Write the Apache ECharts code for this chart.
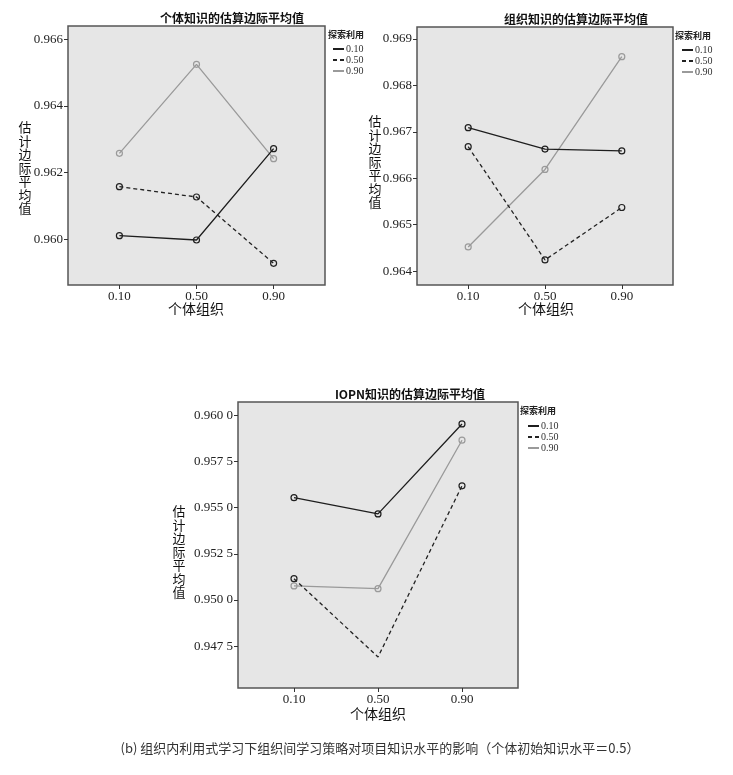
<!DOCTYPE html>
<html>
<head>
<meta charset="utf-8">
<script src="https://cdn.jsdelivr.net/npm/echarts@6/dist/echarts.min.js"></script>
<style>
html,body{margin:0;padding:0;background:#fff;}
#c{width:733px;height:775px;}
</style>
</head>
<body>
<div id="c"></div>
<script>
// ---- data ----
const xValues = [0.10, 0.50, 0.90];
const seriesNames = ['0.10', '0.50', '0.90'];
const chartTitles = ['个体知识的估算边际平均值', '组织知识的估算边际平均值', 'IOPN知识的估算边际平均值'];
const xAxisTitle = '个体组织';
const yAxisTitle = '估计边际平均值';
const legendTitle = '探索利用';
const caption = '(b) 组织内利用式学习下组织间学习策略对项目知识水平的影响（个体初始知识水平＝0.5）';

// chart 1: 个体知识
const indiv010 = [0.96011, 0.95998, 0.96272];
const indiv050 = [0.96158, 0.96127, 0.95928];
const indiv090 = [0.96258, 0.96525, 0.96242];
// chart 2: 组织知识
const org010 = [0.96709, 0.96663, 0.96659];
const org050 = [0.96668, 0.96424, 0.96537];
const org090 = [0.96452, 0.96619, 0.96862];
// chart 3: IOPN知识
const iopn010 = [0.95554, 0.95466, 0.95953];
const iopn050 = [0.95115, 0.94691, 0.95618];
const iopn090 = [0.95076, 0.95061, 0.95865];

// tick labels
const xTicks = [0.10, 0.50, 0.90];
const yTicks1 = [0.960, 0.962, 0.964, 0.966];
const yTicks2 = [0.964, 0.965, 0.966, 0.967, 0.968, 0.969];
const yTicks3 = [0.9475, 0.9500, 0.9525, 0.9550, 0.9575, 0.9600];

// ---- layout / style ----
const grids = [
  {left: 68, top: 26, width: 257, height: 259},
  {left: 417, top: 27, width: 256, height: 258},
  {left: 238, top: 402, width: 280, height: 286}
];
const titleCenters = [227, 571, 405];
const yRanges = [[0.95863, 0.9664], [0.9637, 0.96926], [0.94523, 0.96072]];
const yTickSets = [yTicks1, yTicks2, yTicks3];
const yFormatters = [
  v => v.toFixed(3),
  v => v.toFixed(3),
  v => { const s = v.toFixed(4); return s.slice(0, 5) + ' ' + s.slice(5); }
];
const dataSets = [
  [indiv010, indiv050, indiv090],
  [org010, org050, org090],
  [iopn010, iopn050, iopn090]
];
const lineStyles = [
  {color: '#1e1e1e', type: 'solid', width: 1.3},
  {color: '#222222', type: [4, 3], width: 1.3},
  {color: '#9a9a9a', type: 'solid', width: 1.3}
];
const numFont = 'Liberation Serif';
const cjkFont = 'Noto Sans CJK SC';

const xAxes = [], yAxes = [], series = [], legends = [], graphics = [], titles = [];

grids.forEach((g, i) => {
  xAxes.push({
    type: 'value', gridIndex: i, min: 0.5 - 2 / 3, max: 0.5 + 2 / 3,
    splitLine: {show: false}, axisLine: {show: false, onZero: false},
    axisTick: {show: true, customValues: xTicks, length: 4, lineStyle: {color: '#333'}},
    axisLabel: {customValues: xTicks, formatter: v => v.toFixed(2), margin: 5,
      fontFamily: numFont, fontSize: 13, color: '#222'}
  });
  yAxes.push({
    type: 'value', gridIndex: i, min: yRanges[i][0], max: yRanges[i][1],
    splitLine: {show: false}, axisLine: {show: false, onZero: false},
    axisTick: {show: true, customValues: yTickSets[i], length: 4, lineStyle: {color: '#333'}},
    axisLabel: {customValues: yTickSets[i], formatter: yFormatters[i], margin: 5,
      fontFamily: numFont, fontSize: 13, color: '#222'}
  });
  dataSets[i].forEach((vals, k) => {
    series.push({
      name: seriesNames[k], type: 'line', xAxisIndex: i, yAxisIndex: i,
      data: xValues.map((x, j) => {
        const item = {value: [x, vals[j]]};
        if (i === 2 && k === 1 && j === 1) item.symbol = 'none';
        return item;
      }),
      symbol: 'circle', symbolSize: 6, showSymbol: true,
      lineStyle: lineStyles[k],
      itemStyle: {color: 'rgba(0,0,0,0)', borderColor: lineStyles[k].color, borderWidth: 1.2},
      emphasis: {disabled: true}, animation: false, z: 3 - k
    });
  });
  titles.push({
    text: chartTitles[i], left: titleCenters[i], top: g.top - 19,
    textAlign: 'center',
    textStyle: {fontFamily: cjkFont, fontSize: 12, fontWeight: 'bold', color: '#111'}
  });
});

// legends
const legendPos = [
  {titleX: 328, titleY: 30, left: 332, top: 44},
  {titleX: 675, titleY: 31, left: 681, top: 45},
  {titleX: 520, titleY: 406, left: 527, top: 421}
];
legendPos.forEach(p => {
  legends.push({
    data: seriesNames, orient: 'vertical', left: p.left, top: p.top, padding: 0,
    itemWidth: 11, itemHeight: 8, itemGap: 1, selectedMode: false,
    itemStyle: {color: 'rgba(0,0,0,0)', borderColor: 'rgba(0,0,0,0)', borderWidth: 0},
    textStyle: {fontFamily: numFont, fontSize: 10, color: '#333', padding: [0, 0, 0, -3]}
  });
  graphics.push({
    type: 'text', left: p.titleX, top: p.titleY,
    style: {text: legendTitle, font: 'bold 9px "' + cjkFont + '"', fill: '#222'}
  });
});

// axis names
const yNamePos = [{x: 25, y: 168}, {x: 375, y: 162}, {x: 179, y: 552}];
const xNamePos = [{x: 196, y: 309}, {x: 546, y: 309}, {x: 378, y: 714}];
yNamePos.forEach(p => {
  graphics.push({
    type: 'text', x: p.x, y: p.y,
    style: {text: yAxisTitle.split('').join('\n'), font: '13px "' + cjkFont + '"', lineHeight: 13.5,
      fill: '#111', align: 'center', verticalAlign: 'middle'}
  });
});
xNamePos.forEach(p => {
  graphics.push({
    type: 'text', x: p.x, y: p.y,
    style: {text: xAxisTitle, font: '14px "' + cjkFont + '"', fill: '#111', align: 'center', verticalAlign: 'middle'}
  });
});
graphics.push({
  type: 'text', x: 380, y: 748,
  style: {text: caption, font: '13px "' + cjkFont + '"', fill: '#333', align: 'center', verticalAlign: 'middle'}
});

const chart = echarts.init(document.getElementById('c'), null, {renderer: 'canvas'});
chart.setOption({
  backgroundColor: '#ffffff',
  animation: false,
  title: titles,
  grid: grids.map(g => Object.assign({}, g, {show: true, backgroundColor: '#e6e6e6', borderColor: '#555', borderWidth: 1.5})),
  xAxis: xAxes,
  yAxis: yAxes,
  legend: legends,
  series: series,
  graphic: graphics
});
</script>
</body>
</html>
